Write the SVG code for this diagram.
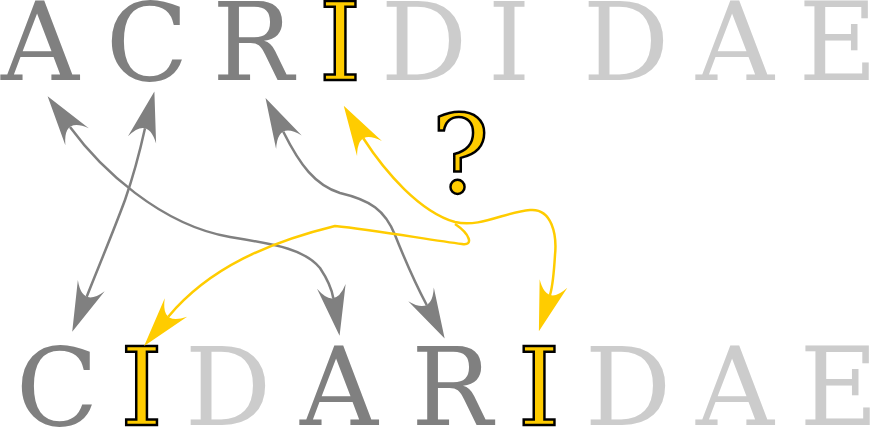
<svg xmlns="http://www.w3.org/2000/svg" xmlns:xlink="http://www.w3.org/1999/xlink" width="874" height="428" viewBox="0 0 874 428">
<style>
text{font-family:"DejaVu Serif","Liberation Serif",serif;font-size:108px;text-anchor:middle}
.g{fill:#808080}
.l{fill:#cccccc}
.y{fill:#ffcc00;stroke:#000;stroke-width:2.5px;stroke-linejoin:miter}
.cg{fill:none;stroke:#808080;stroke-width:2.5}
.cy{fill:none;stroke:#ffcc00;stroke-width:2.5}
.hg{fill:#808080}
.hy{fill:#ffcc00}
</style>
<defs>
<path id="head" d="M38,0 L-12,-14.5 Q12,0 -12,14.5 Z"/>
</defs>
<g id="top-word">
<text class="g" x="40" y="80">A</text>
<text class="g" x="147" y="80">C</text>
<text class="g" x="253" y="80">R</text>
<text class="y" x="340" y="80">I</text>
<text class="l" x="424" y="80">D</text>
<text class="l" x="509" y="80">I</text>
<text class="l" x="626" y="80">D</text>
<text class="l" x="735" y="80">A</text>
<text class="l" x="838" y="80">E</text>
</g>
<g id="bottom-word">
<text class="g" x="57" y="425">C</text>
<text class="y" x="141.5" y="425">I</text>
<text class="l" x="228" y="425">D</text>
<text class="g" x="339" y="425">A</text>
<text class="g" x="452" y="425">R</text>
<text class="y" x="539" y="425">I</text>
<text class="l" x="628" y="425">D</text>
<text class="l" x="735" y="425">A</text>
<text class="l" x="839" y="425">E</text>
</g>
<g id="question">
<text class="y" x="460.5" y="192">?</text>
</g>
<g id="connectors">
<path class="cg" d="M70,127 C100,168 160,225 230,237 C280,245 305,250 320,268 C328,280 332,290 333.3,298.3"/>
<use class="hg" href="#head" xlink:href="#head" transform="translate(70,127) rotate(-126.1)"/>
<use class="hg" href="#head" xlink:href="#head" transform="translate(333.3,298.3) rotate(80.5)"/>
<path class="cg" d="M145,128.3 C138,160 132,180 125,200 C112,235 98,268 86.7,296.7"/>
<use class="hg" href="#head" xlink:href="#head" transform="translate(145,128.3) rotate(-75.7)"/>
<use class="hg" href="#head" xlink:href="#head" transform="translate(86.7,296.7) rotate(112.4)"/>
<path class="cg" d="M283.3,131.7 C300,165 315,185 340,193 C370,200 385,210 395,235 C405,260 415,283 426.7,305"/>
<use class="hg" href="#head" xlink:href="#head" transform="translate(283.3,131.7) rotate(-117.9)"/>
<use class="hg" href="#head" xlink:href="#head" transform="translate(426.7,305) rotate(61.8)"/>
<path class="cy" d="M363.3,138.3 C385,172 420,212 455,222 C480,228 505,212 530,210 C552,208 557,235 555,255 C554,272 553,285 550,295"/>
<use class="hy" href="#head" xlink:href="#head" transform="translate(363.3,138.3) rotate(-121)"/>
<use class="hy" href="#head" xlink:href="#head" transform="translate(550,295) rotate(107)"/>
<path class="cy" d="M168.3,316.7 C210,267 270,242 335,226 C375,230 430,240 462,244 C474,246 470,234 455,224"/>
<use class="hy" href="#head" xlink:href="#head" transform="translate(168.3,316.7) rotate(129.5)"/>
</g>
</svg>
